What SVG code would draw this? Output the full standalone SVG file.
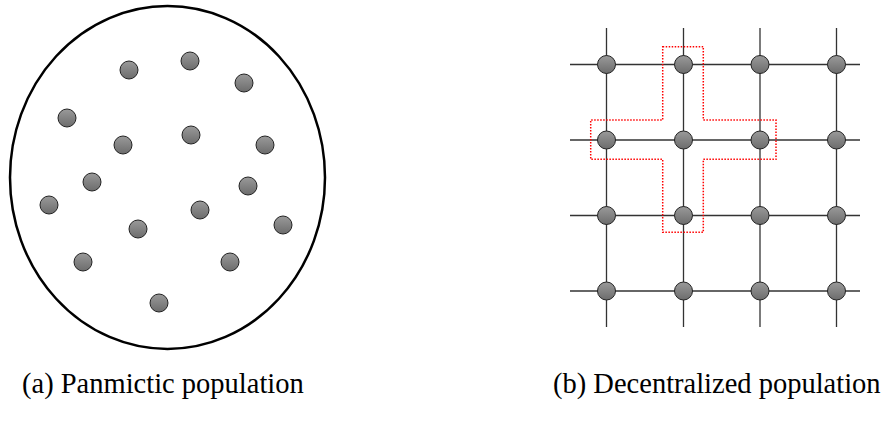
<svg xmlns="http://www.w3.org/2000/svg" width="889" height="421" viewBox="0 0 889 421">
<defs>
<linearGradient id="g" x1="0" y1="0" x2="0" y2="1">
<stop offset="0" stop-color="#9a9a9a"/>
<stop offset="1" stop-color="#6c6c6c"/>
</linearGradient>
</defs>
<style>
.dot{fill:url(#g);stroke:#222;stroke-width:1}
.ln{stroke:#333;stroke-width:1.3;fill:none}
.lbl{font-family:"Liberation Serif","Times New Roman","DejaVu Serif",serif;font-size:28.5px;fill:#000}
</style>
<g id="panmictic">
<ellipse cx="167.5" cy="177.5" rx="157.5" ry="171.5" fill="none" stroke="#000" stroke-width="2.5"/>
<circle class="dot" cx="129" cy="70" r="9"/>
<circle class="dot" cx="190" cy="61" r="9"/>
<circle class="dot" cx="244" cy="83" r="9"/>
<circle class="dot" cx="67" cy="118" r="9"/>
<circle class="dot" cx="123" cy="145" r="9"/>
<circle class="dot" cx="191" cy="135" r="9"/>
<circle class="dot" cx="265" cy="145" r="9"/>
<circle class="dot" cx="92" cy="182" r="9"/>
<circle class="dot" cx="248" cy="186" r="9"/>
<circle class="dot" cx="49" cy="205" r="9"/>
<circle class="dot" cx="200" cy="210" r="9"/>
<circle class="dot" cx="138" cy="229" r="9"/>
<circle class="dot" cx="283" cy="225" r="9"/>
<circle class="dot" cx="83" cy="262" r="9"/>
<circle class="dot" cx="230" cy="262" r="9"/>
<circle class="dot" cx="159" cy="303" r="9"/>
</g>
<g id="connectors">
<line class="ln" x1="570" y1="64.5" x2="860" y2="64.5"/>
<line class="ln" x1="570" y1="140" x2="860" y2="140"/>
<line class="ln" x1="570" y1="215.5" x2="860" y2="215.5"/>
<line class="ln" x1="570" y1="291" x2="860" y2="291"/>
<line class="ln" x1="606.5" y1="28" x2="606.5" y2="327"/>
<line class="ln" x1="683.5" y1="28" x2="683.5" y2="327"/>
<line class="ln" x1="760" y1="28" x2="760" y2="327"/>
<line class="ln" x1="836.5" y1="28" x2="836.5" y2="327"/>
</g>
<g id="grid-nodes">
<circle class="dot" cx="606.5" cy="64.5" r="9"/>
<circle class="dot" cx="683.5" cy="64.5" r="9"/>
<circle class="dot" cx="760" cy="64.5" r="9"/>
<circle class="dot" cx="836.5" cy="64.5" r="9"/>
<circle class="dot" cx="606.5" cy="140" r="9"/>
<circle class="dot" cx="683.5" cy="140" r="9"/>
<circle class="dot" cx="760" cy="140" r="9"/>
<circle class="dot" cx="836.5" cy="140" r="9"/>
<circle class="dot" cx="606.5" cy="215.5" r="9"/>
<circle class="dot" cx="683.5" cy="215.5" r="9"/>
<circle class="dot" cx="760" cy="215.5" r="9"/>
<circle class="dot" cx="836.5" cy="215.5" r="9"/>
<circle class="dot" cx="606.5" cy="291" r="9"/>
<circle class="dot" cx="683.5" cy="291" r="9"/>
<circle class="dot" cx="760" cy="291" r="9"/>
<circle class="dot" cx="836.5" cy="291" r="9"/>
</g>
<g id="neighborhood">
<path d="M662.7,46.7 H703.3 V120 H776 V159.3 H703.3 V232.3 H662.7 V159.3 H590.7 V120 H662.7 Z" fill="none" stroke="#f00" stroke-width="1.5" stroke-dasharray="1.5,1.5"/>
</g>
<g id="captions">
<text class="lbl" x="22" y="393">(a) Panmictic population</text>
<text class="lbl" x="553" y="393">(b) Decentralized population</text>
</g>
</svg>
